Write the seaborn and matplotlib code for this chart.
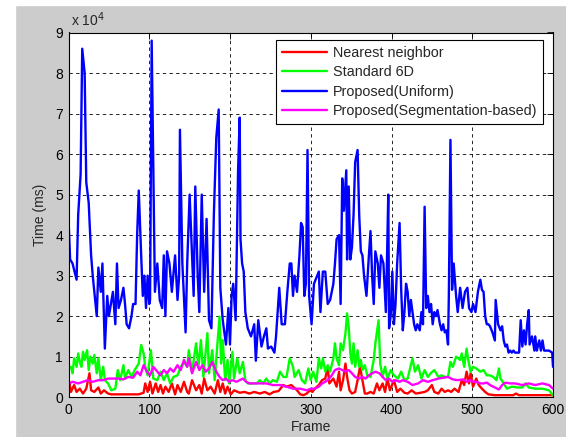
import numpy as np
import pandas as pd
import seaborn as sns
import matplotlib.pyplot as plt
from matplotlib.patches import Rectangle

# (frame, time in units of 1e4 ms)
nearest = [(1, 0.38), (3, 0.13), (7, 0.3), (10, 0.13), (14, 0.21), (18, 0.09), (22, 0.21), (26, 0.59), (28, 0.17),
           (32, 0.13), (37, 0.24), (40, 0.09), (44, 0.17), (49, 0.09), (53, 0.07), (62, 0.07), (70, 0.07), (78, 0.07),
           (87, 0.07), (93, 0.11), (95, 0.34), (98, 0.13), (101, 0.38), (104, 0.09), (108, 0.34), (111, 0.13),
           (114, 0.3), (117, 0.09), (120, 0.26), (124, 0.13), (128, 0.34), (132, 0.07), (135, 0.3), (139, 0.13),
           (143, 0.38), (147, 0.13), (149, 0.09), (153, 0.42), (158, 0.17), (162, 0.3), (165, 0.09), (168, 0.46),
           (172, 0.17), (176, 0.26), (181, 0.09), (185, 0.42), (188, 0.13), (191, 0.34), (194, 0.09), (197, 0.26),
           (201, 0.07), (205, 0.17), (212, 0.11), (218, 0.13), (224, 0.09), (230, 0.13), (237, 0.09), (243, 0.13),
           (249, 0.07), (254, 0.13), (260, 0.15), (266, 0.3), (270, 0.26), (276, 0.3), (283, 0.17), (287, 0.07),
           (291, 0.05), (295, 0.09), (299, 0.17), (302, 0.13), (305, 0.21), (310, 0.3), (314, 0.42), (318, 0.46),
           (321, 0.75), (323, 0.34), (328, 0.46), (332, 0.26), (335, 0.63), (337, 0.17), (340, 0.42), (343, 0.83),
           (345, 0.5), (348, 0.17), (351, 0.09), (355, 0.13), (358, 0.42), (361, 0.75), (364, 0.42), (367, 0.09),
           (370, 0.09), (374, 0.13), (378, 0.09), (382, 0.34), (385, 0.17), (389, 0.34), (392, 0.13), (395, 0.46),
           (398, 0.17), (403, 0.42), (407, 0.13), (411, 0.21), (416, 0.11), (420, 0.09), (425, 0.17), (430, 0.09),
           (436, 0.11), (441, 0.13), (445, 0.17), (450, 0.3), (453, 0.13), (458, 0.09), (462, 0.21), (466, 0.13),
           (470, 0.17), (474, 0.13), (478, 0.21), (483, 0.13), (487, 0.42), (490, 0.3), (493, 0.63), (496, 0.34),
           (498, 0.59), (501, 0.26), (505, 0.46), (508, 0.3), (512, 0.21), (516, 0.13), (520, 0.07), (528, 0.05),
           (537, 0.05), (545, 0.05), (551, 0.05), (554, 0.09), (558, 0.05), (566, 0.05), (575, 0.05), (587, 0.05),
           (600, 0.05)]

standard6d = [(3, 0.75), (5, 0.59), (7, 0.96), (10, 0.75), (12, 1.08), (14, 0.87), (16, 0.75), (18, 1.12), (20, 0.92),
              (23, 1.16), (25, 0.67), (27, 1.0), (30, 0.83), (32, 1.04), (35, 0.59), (37, 0.96), (40, 0.42),
              (43, 0.75), (45, 0.42), (49, 0.34), (53, 0.17), (58, 0.21), (61, 0.67), (64, 0.42), (68, 0.79),
              (70, 0.46), (74, 0.67), (78, 0.5), (82, 0.67), (87, 0.83), (90, 1.29), (93, 1.08), (95, 0.75),
              (98, 0.54), (102, 1.16), (105, 0.46), (110, 0.42), (114, 0.63), (118, 0.42), (122, 0.59), (126, 0.34),
              (130, 0.5), (135, 0.54), (139, 0.75), (143, 0.87), (147, 0.75), (149, 1.16), (153, 0.63), (158, 1.33),
              (161, 0.75), (164, 1.41), (167, 0.5), (170, 1.16), (172, 1.58), (174, 0.59), (178, 1.16), (181, 0.42),
              (185, 1.49), (187, 1.99), (189, 0.83), (191, 1.41), (194, 0.42), (197, 0.92), (199, 0.34), (203, 1.12),
              (205, 0.46), (209, 0.96), (212, 0.59), (216, 0.87), (219, 0.42), (222, 0.34), (228, 0.34), (233, 0.34),
              (237, 0.42), (241, 0.34), (245, 0.46), (249, 0.34), (253, 0.42), (258, 0.38), (262, 0.63), (266, 0.5),
              (270, 0.5), (274, 0.96), (278, 0.75), (280, 0.5), (285, 0.67), (289, 0.42), (293, 0.34), (297, 0.71),
              (300, 0.42), (303, 0.63), (307, 0.38), (310, 0.96), (313, 0.71), (315, 0.96), (318, 0.63), (321, 0.79),
              (324, 0.63), (328, 0.96), (330, 1.33), (332, 0.96), (335, 0.79), (337, 1.33), (340, 1.16), (343, 1.58),
              (345, 2.07), (347, 1.74), (349, 1.08), (351, 0.83), (353, 1.33), (355, 0.75), (358, 1.16), (360, 0.75),
              (362, 0.92), (364, 0.67), (367, 0.79), (370, 0.54), (374, 0.5), (378, 0.92), (380, 1.33), (384, 1.9),
              (386, 0.83), (389, 0.5), (392, 0.75), (395, 0.46), (399, 0.67), (403, 0.54), (408, 0.46), (412, 0.63),
              (416, 0.42), (420, 0.46), (426, 0.96), (429, 0.63), (433, 0.79), (437, 0.46), (441, 0.67), (445, 0.5),
              (449, 0.6), (453, 0.67), (458, 0.5), (462, 0.54), (466, 0.5), (470, 0.5), (473, 0.87), (476, 0.75),
              (480, 1.0), (485, 0.92), (487, 1.08), (490, 0.75), (493, 1.2), (495, 0.92), (498, 0.63), (501, 0.75),
              (505, 0.71), (510, 0.63), (514, 0.67), (518, 0.54), (522, 0.54), (526, 0.5), (530, 0.42), (533, 0.71),
              (535, 0.46), (539, 0.34), (543, 0.21), (549, 0.26), (556, 0.24), (562, 0.24), (566, 0.34), (570, 0.24),
              (578, 0.21), (587, 0.21), (595, 0.17), (600, 0.05)]

uniform = [(0, 4.4), (2, 3.4), (5, 3.3), (10, 2.9), (12, 4.5), (15, 5.5), (17, 8.6), (20, 8.0), (22, 5.3), (25, 4.8),
           (28, 3.5), (30, 3.0), (35, 2.0), (37, 3.2), (40, 2.6), (42, 3.3), (45, 1.2), (48, 2.5), (50, 2.0),
           (55, 2.6), (58, 1.8), (60, 3.3), (62, 2.2), (65, 2.4), (68, 2.7), (70, 2.3), (72, 1.8), (75, 1.7),
           (78, 2.0), (80, 2.3), (83, 2.3), (85, 4.0), (87, 5.1), (89, 4.0), (90, 3.5), (92, 2.5), (94, 3.0),
           (96, 2.2), (98, 3.0), (100, 2.3), (101, 2.4), (103, 8.8), (107, 2.6), (110, 3.3), (113, 2.4), (116, 2.2),
           (118, 3.5), (120, 2.0), (122, 3.6), (125, 3.3), (128, 2.6), (132, 3.5), (135, 2.4), (137, 3.0),
           (138, 6.6), (141, 3.3), (145, 1.6), (147, 3.3), (150, 5.0), (152, 4.0), (155, 2.5), (157, 5.2),
           (160, 3.0), (162, 2.1), (165, 5.0), (168, 2.6), (171, 4.4), (174, 1.9), (177, 1.7), (180, 4.5),
           (183, 6.4), (186, 7.1), (188, 2.7), (191, 1.9), (195, 1.3), (198, 2.2), (200, 1.3), (202, 2.5),
           (204, 2.8), (207, 1.9), (210, 5.6), (212, 6.9), (213, 3.9), (215, 3.3), (217, 3.1), (219, 2.1),
           (222, 1.7), (226, 1.5), (230, 1.8), (232, 0.9), (235, 1.9), (239, 1.25), (242, 1.5), (245, 1.7),
           (247, 1.2), (251, 1.25), (255, 1.1), (257, 1.5), (261, 2.7), (264, 1.8), (268, 1.8), (271, 2.6),
           (274, 3.3), (276, 3.3), (278, 2.5), (280, 3.0), (283, 2.6), (286, 3.5), (288, 4.3), (290, 4.2),
           (292, 2.5), (294, 2.8), (296, 6.1), (298, 2.5), (301, 1.8), (304, 2.8), (308, 3.0), (310, 3.1),
           (312, 2.1), (315, 3.1), (318, 3.1), (321, 2.3), (324, 2.4), (328, 2.8), (330, 3.3), (332, 3.9),
           (335, 4.0), (337, 2.3), (339, 5.4), (341, 4.6), (344, 5.6), (345, 3.4), (347, 5.2), (349, 3.4),
           (351, 3.7), (353, 4.5), (355, 5.8), (358, 6.1), (360, 4.5), (362, 3.6), (364, 3.5), (366, 3.0),
           (369, 2.5), (372, 3.5), (374, 4.1), (376, 3.0), (378, 2.3), (380, 3.6), (383, 3.3), (385, 2.7),
           (387, 3.5), (390, 3.3), (393, 2.1), (394, 3.0), (396, 5.0), (397, 1.7), (399, 2.0), (401, 3.1),
           (403, 1.8), (405, 2.3), (407, 3.3), (410, 4.3), (412, 2.65), (414, 1.65), (416, 2.1), (418, 2.8),
           (420, 2.6), (422, 2.0), (424, 2.4), (428, 1.8), (430, 1.65), (432, 1.8), (435, 1.65), (437, 2.1),
           (439, 1.8), (441, 4.7), (443, 2.2), (445, 2.5), (447, 2.1), (449, 2.3), (451, 1.8), (453, 2.1),
           (455, 2.0), (457, 2.15), (460, 1.8), (462, 1.65), (464, 1.8), (466, 1.6), (468, 1.65), (470, 1.3),
           (471, 2.5), (473, 6.35), (475, 2.65), (477, 3.3), (480, 2.5), (482, 2.1), (485, 2.7), (488, 2.2),
           (491, 2.6), (494, 2.7), (496, 2.2), (499, 2.1), (501, 2.3), (504, 2.1), (507, 2.6), (510, 2.9),
           (512, 2.65), (514, 2.6), (516, 2.0), (518, 1.8), (520, 1.8), (522, 1.75), (525, 1.6), (528, 1.4),
           (529, 2.4), (532, 1.8), (535, 1.65), (537, 1.75), (539, 1.4), (541, 1.25), (543, 1.3), (545, 1.1),
           (547, 1.15), (549, 1.1), (551, 1.15), (553, 1.1), (555, 1.1), (558, 1.1), (560, 1.9), (562, 1.25),
           (564, 1.65), (566, 1.3), (568, 1.8), (570, 2.15), (571, 1.3), (574, 1.5), (577, 1.15), (578, 1.5),
           (580, 1.15), (583, 1.4), (585, 1.15), (587, 1.4), (589, 1.15), (591, 1.15), (595, 1.15), (599, 1.1),
           (600, 0.75)]

segmentation = [(1, 0.34), (5, 0.38), (12, 0.34), (18, 0.38), (24, 0.42), (30, 0.38), (37, 0.42), (43, 0.42),
                (49, 0.46), (55, 0.46), (62, 0.46), (68, 0.44), (74, 0.5), (80, 0.48), (85, 0.63), (89, 0.54),
                (93, 0.79), (97, 0.63), (101, 0.54), (105, 0.75), (110, 0.63), (114, 0.54), (118, 0.67), (122, 0.59),
                (126, 0.71), (130, 0.63), (135, 0.79), (139, 0.67), (143, 0.92), (147, 0.75), (149, 0.96), (153, 0.59),
                (158, 0.87), (162, 0.67), (166, 0.79), (170, 0.63), (174, 0.71), (178, 0.87), (183, 0.63), (187, 0.5),
                (191, 0.42), (195, 0.46), (199, 0.38), (203, 0.42), (208, 0.38), (212, 0.42), (216, 0.46), (220, 0.38),
                (224, 0.34), (228, 0.34), (237, 0.34), (245, 0.34), (253, 0.3), (262, 0.3), (270, 0.26), (278, 0.21),
                (287, 0.21), (295, 0.17), (300, 0.21), (305, 0.21), (310, 0.26), (314, 0.34), (318, 0.38), (323, 0.46),
                (326, 0.54), (330, 0.67), (335, 0.71), (339, 0.67), (343, 0.63), (347, 0.67), (351, 0.59), (355, 0.5),
                (360, 0.46), (364, 0.5), (368, 0.46), (372, 0.54), (376, 0.59), (380, 0.63), (385, 0.59), (389, 0.5),
                (393, 0.42), (397, 0.46), (401, 0.38), (405, 0.42), (410, 0.38), (414, 0.42), (420, 0.38), (426, 0.3),
                (433, 0.34), (439, 0.42), (445, 0.38), (451, 0.42), (458, 0.46), (464, 0.48), (470, 0.5), (476, 0.44),
                (482, 0.42), (489, 0.44), (493, 0.38), (497, 0.42), (501, 0.38), (505, 0.38), (510, 0.34), (514, 0.34),
                (518, 0.36), (522, 0.3), (528, 0.24), (533, 0.19), (537, 0.3), (541, 0.36), (547, 0.34), (553, 0.34),
                (562, 0.3), (570, 0.34), (578, 0.3), (587, 0.34), (595, 0.3), (600, 0.21)]

methods = ['Nearest neighbor', 'Standard 6D', 'Proposed(Uniform)', 'Proposed(Segmentation-based)']
colors = ['#ff0000', '#00ff00', '#0000ff', '#ff00ff']
y_ticks = list(range(0, 10))

frames = []
for name, pts in zip(methods, [nearest, standard6d, uniform, segmentation]):
    f, v = zip(*pts)
    frames.append(pd.DataFrame({'Frame': f, 'Time': np.array(v) * 1e4, 'Method': name}))
df = pd.concat(frames, ignore_index=True)

sns.set_style('white')
plt.rcParams['font.family'] = ['Liberation Sans', 'DejaVu Sans']
plt.rcParams['font.size'] = 10

fig = plt.figure(figsize=(5.66, 4.37), dpi=100, facecolor='#cccccc')
# white strips at the screenshot edges
fig.patches.append(Rectangle((0, 0), 15 / 566, 1, transform=fig.transFigure, color='white', zorder=-1))
fig.patches.append(Rectangle((0, 1 - 5 / 437), 1, 5 / 437, transform=fig.transFigure, color='white', zorder=-1))

ax = fig.add_axes([68.5 / 566, 1 - 397.2 / 437, 484.5 / 566, 364.7 / 437])
ax.set_facecolor('white')

sns.lineplot(data=df, x='Frame', y='Time', hue='Method', hue_order=methods, palette=colors,
             estimator=None, sort=False, linewidth=1.7, ax=ax)

ax.set_xlim(0, 600)
ax.set_ylim(0, 9e4)
ax.set_xticks(range(0, 601, 100))
ax.set_yticks([t * 1e4 for t in y_ticks])
ax.set_yticklabels([str(t) for t in y_ticks])
ax.tick_params(direction='in', length=4, width=0.6, top=True, right=True, colors='black', labelsize=10, pad=4)
ax.grid(True, color='black', linestyle=(0, (4, 4)), linewidth=0.6)
for s in ax.spines.values():
    s.set_color('black')
    s.set_linewidth(0.8)

ax.set_xlabel('Frame', fontsize=10, labelpad=2)
ax.set_ylabel('Time (ms)', fontsize=10, labelpad=6)
ax.text(0.005, 1.01, r'x 10$^{4}$', transform=ax.transAxes, ha='left', va='bottom', fontsize=10)

handles, labels = ax.get_legend_handles_labels()
leg = ax.legend(handles, labels, loc='upper right', bbox_to_anchor=(0.98, 0.979), borderaxespad=0,
                fontsize=10.4, handlelength=3.1, handletextpad=0.45, labelspacing=0.38, borderpad=0.4,
                frameon=True, fancybox=False, framealpha=1, edgecolor='black')
leg.get_frame().set_linewidth(0.8)

fig.savefig('out.png', dpi=100, facecolor=fig.get_facecolor())
